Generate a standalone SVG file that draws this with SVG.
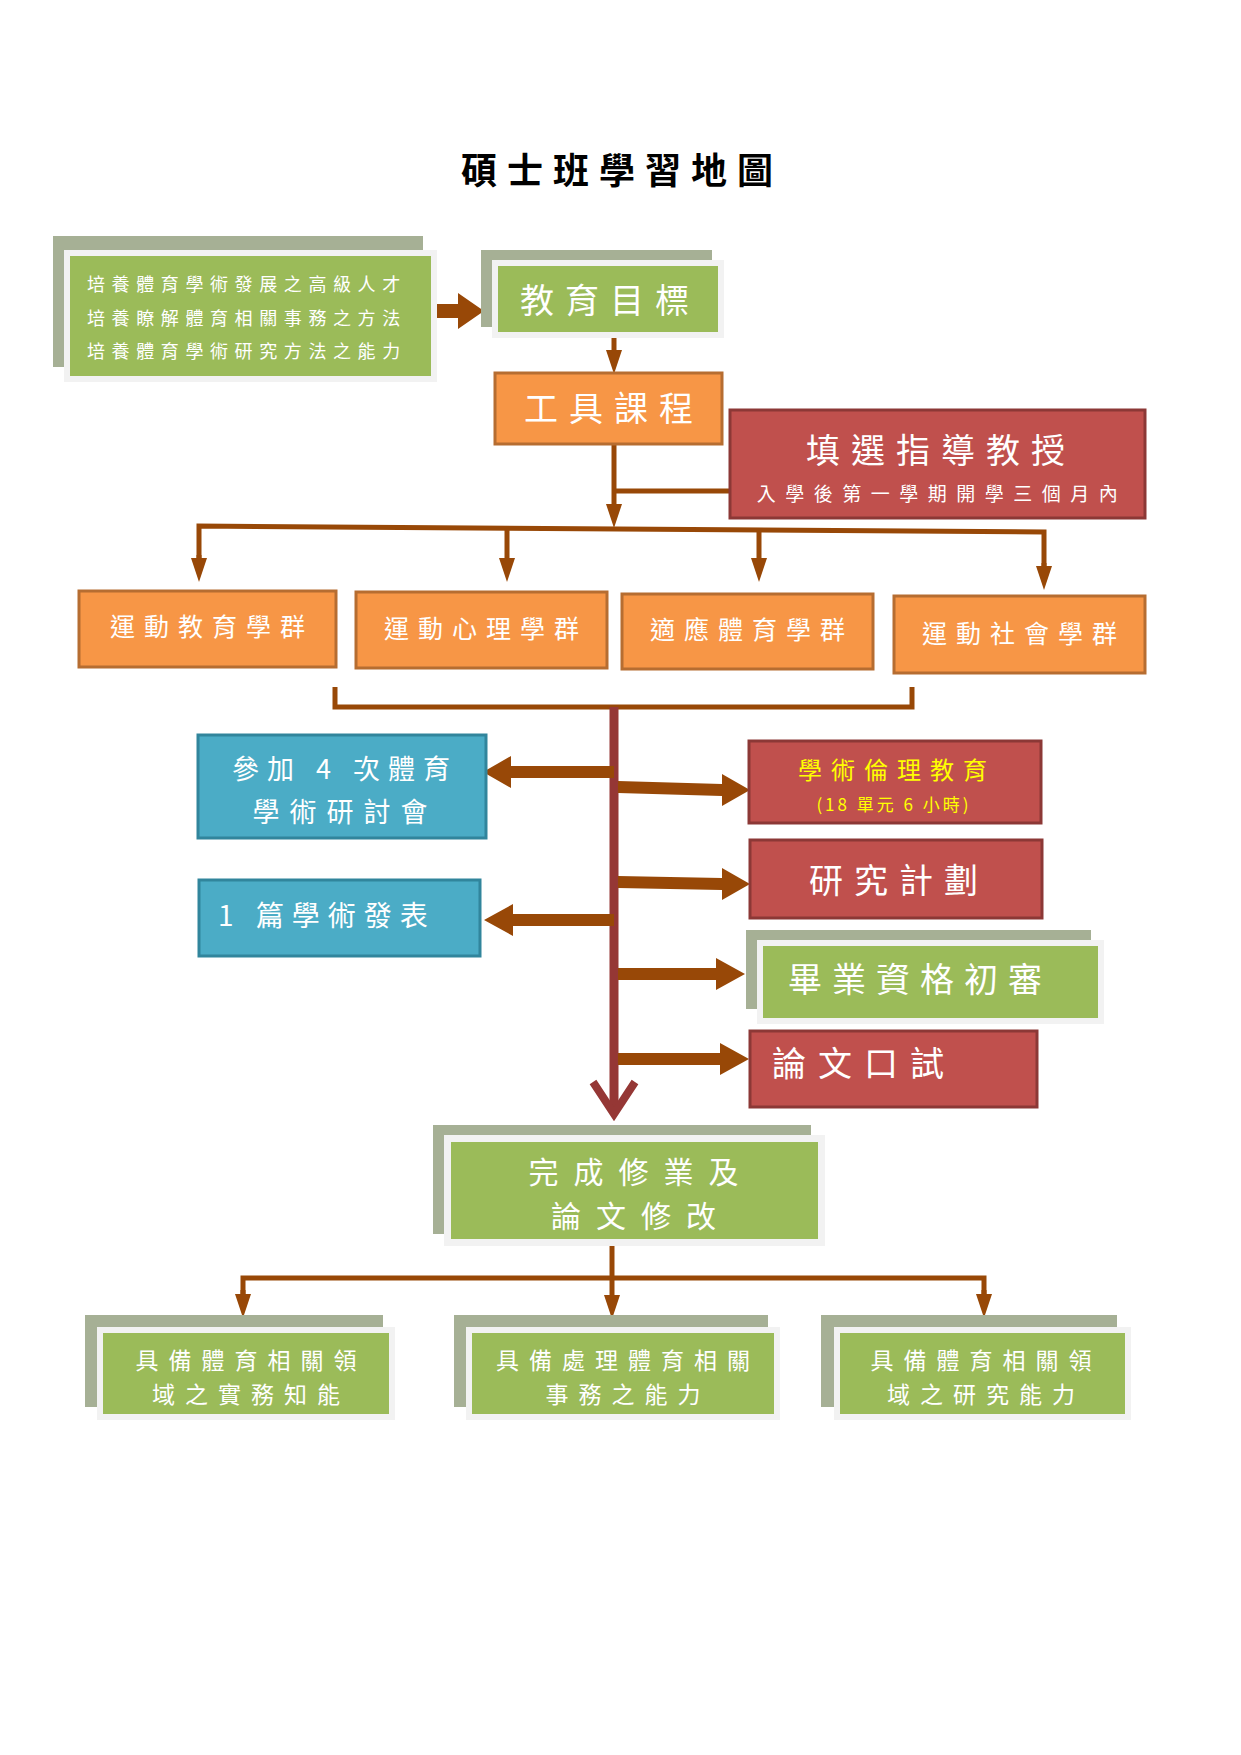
<svg xmlns="http://www.w3.org/2000/svg" width="1241" height="1755" viewBox="0 0 1241 1755">
<defs>
<style>
text{font-family:"Noto Sans CJK TC","Noto Sans CJK SC",sans-serif;fill:#ffffff;dominant-baseline:central}
.title{font-size:36px;font-weight:bold;fill:#000000;letter-spacing:10px;text-anchor:middle}
.big{font-size:34px;letter-spacing:11px;text-anchor:middle}
.mid{font-size:25px;letter-spacing:9px;text-anchor:middle}
.two{font-size:23px;letter-spacing:10px;text-anchor:middle}
.sm{font-size:18px;letter-spacing:6.6px}
.sub{font-size:19px;letter-spacing:9.5px;text-anchor:middle}
.yel{fill:#FFFF00}
.back{fill:#A6B095}
.frame{fill:#F2F2F2}
.green{fill:#9BBB59}
.orange{fill:#F79646;stroke:#B66D31;stroke-width:3}
.red{fill:#C0504D;stroke:#8C3836;stroke-width:3}
.blue{fill:#4BACC6;stroke:#31859C;stroke-width:3}
.ln{fill:none;stroke:#984807;stroke-width:5}
.blk{fill:#984807}
</style>
<marker id="ah" markerWidth="24" markerHeight="16" refX="0" refY="8" orient="auto" markerUnits="userSpaceOnUse">
<path d="M0,0 L24,8 L0,16 z" fill="#984807"/>
</marker>
</defs>
<rect width="1241" height="1755" fill="#ffffff"/>

<text class="title" x="622" y="168">碩士班學習地圖</text>

<g id="connectors">
<path class="blk" d="M436,304 L458,304 L458,293 L484,311 L458,329 L458,318 L436,318 z"/>
<line class="ln" x1="614" y1="333" x2="614" y2="350" marker-end="url(#ah)"/>
<line class="ln" x1="614" y1="444" x2="614" y2="504" marker-end="url(#ah)"/>
<line class="ln" x1="612" y1="491" x2="731" y2="491"/>
<polyline class="ln" points="199,560 199,526 1044,532 1044,568"/>
<line class="ln" x1="199" y1="555" x2="199" y2="558" marker-end="url(#ah)"/>
<line class="ln" x1="507" y1="528" x2="507" y2="558" marker-end="url(#ah)"/>
<line class="ln" x1="759" y1="530" x2="759" y2="558" marker-end="url(#ah)"/>
<line class="ln" x1="1044" y1="563" x2="1044" y2="566" marker-end="url(#ah)"/>
<polyline class="ln" points="335,687 335,707 912,707 912,687"/>
<line x1="614" y1="707" x2="614" y2="1112" stroke="#953735" stroke-width="9"/>
<polyline points="593,1082 614,1114 635,1082" fill="none" stroke="#953735" stroke-width="8" stroke-linejoin="miter"/>
<path class="blk" d="M614,766 L511,766 L511,756 L483,772 L511,788 L511,778 L614,778 z"/>
<path class="blk" d="M614,914 L513,914 L513,904 L484,920 L513,936 L513,926 L614,926 z"/>
<path class="blk" d="M618,781 L722,784 L722,774 L750,790 L722,806 L722,796 L618,793 z"/>
<path class="blk" d="M618,876 L722,878 L722,868 L750,884 L722,900 L722,890 L618,888 z"/>
<path class="blk" d="M618,968 L716,968 L716,958 L745,974 L716,990 L716,980 L618,980 z"/>
<path class="blk" d="M618,1053 L720,1053 L720,1043 L749,1059 L720,1075 L720,1065 L618,1065 z"/>
<line class="ln" x1="612" y1="1245" x2="612" y2="1295" marker-end="url(#ah)"/>
<polyline class="ln" points="243,1295 243,1278 984,1278 984,1295"/>
<line class="ln" x1="243" y1="1290" x2="243" y2="1294" marker-end="url(#ah)"/>
<line class="ln" x1="984" y1="1290" x2="984" y2="1294" marker-end="url(#ah)"/>
</g>

<g id="goals">
<rect class="back" x="53" y="236" width="370" height="131"/>
<rect class="frame" x="64" y="250" width="373" height="132"/>
<rect class="green" x="70" y="256" width="361" height="120"/>
<text class="sm" x="87" y="283">培養體育學術發展之高級人才</text>
<text class="sm" x="87" y="317">培養瞭解體育相關事務之方法</text>
<text class="sm" x="87" y="350">培養體育學術研究方法之能力</text>
</g>

<g id="objective">
<rect class="back" x="481" y="250" width="231" height="77"/>
<rect class="frame" x="492" y="260" width="232" height="78"/>
<rect class="green" x="498" y="266" width="220" height="66"/>
<text class="big" x="610" y="298">教育目標</text>
</g>

<g id="tools">
<rect class="orange" x="495" y="373" width="227" height="71"/>
<text class="big" x="614" y="406">工具課程</text>
</g>

<g id="advisor">
<rect class="red" x="730" y="410" width="415" height="108"/>
<text class="big" x="941" y="448">填選指導教授</text>
<text class="sub" x="942" y="492">入學後第一學期開學三個月內</text>
</g>

<g id="group1">
<rect class="orange" x="79" y="591" width="257" height="76"/>
<text class="mid" x="212" y="625">運動教育學群</text>
</g>
<g id="group2">
<rect class="orange" x="356" y="592" width="251" height="76"/>
<text class="mid" x="486" y="627">運動心理學群</text>
</g>
<g id="group3">
<rect class="orange" x="622" y="594" width="251" height="75"/>
<text class="mid" x="752" y="628">適應體育學群</text>
</g>
<g id="group4">
<rect class="orange" x="894" y="596" width="251" height="77"/>
<text class="mid" x="1024" y="632">運動社會學群</text>
</g>

<g id="seminar">
<rect class="blue" x="198" y="735" width="288" height="103"/>
<text class="mid" x="345" y="767" style="font-size:27px;letter-spacing:8px">參加 4 次體育</text>
<text class="mid" x="345" y="810" style="font-size:27px;letter-spacing:10px">學術研討會</text>
</g>

<g id="publication">
<rect class="blue" x="199" y="880" width="281" height="76"/>
<text x="218" y="914" style="font-size:28px;letter-spacing:8px">1 篇學術發表</text>
</g>

<g id="ethics">
<rect class="red" x="749" y="741" width="292" height="82"/>
<text class="mid yel" x="897" y="768" style="font-size:24px">學術倫理教育</text>
<text class="yel" x="894" y="803" style="font-size:17px;letter-spacing:3px;text-anchor:middle">(18 單元 6 小時)</text>
</g>

<g id="proposal">
<rect class="red" x="750" y="840" width="292" height="78"/>
<text class="big" x="899" y="878">研究計劃</text>
</g>

<g id="review">
<rect class="back" x="746" y="930" width="345" height="79"/>
<rect class="frame" x="757" y="940" width="347" height="84"/>
<rect class="green" x="763" y="946" width="335" height="72"/>
<text class="big" x="920" y="977" style="letter-spacing:10px">畢業資格初審</text>
</g>

<g id="defense">
<rect class="red" x="750" y="1031" width="287" height="76"/>
<text x="772" y="1061" style="font-size:34px;letter-spacing:12px">論文口試</text>
</g>

<g id="complete">
<rect class="back" x="433" y="1125" width="378" height="109"/>
<rect class="frame" x="444" y="1135" width="381" height="111"/>
<rect class="green" x="451" y="1142" width="367" height="97"/>
<text class="big" x="641" y="1170" style="font-size:30px;letter-spacing:15px">完成修業及</text>
<text class="big" x="641" y="1214" style="font-size:30px;letter-spacing:15px">論文修改</text>
</g>

<g id="outcome1">
<rect class="back" x="85" y="1315" width="298" height="92"/>
<rect class="frame" x="97" y="1327" width="298" height="93"/>
<rect class="green" x="103" y="1333" width="286" height="81"/>
<text class="two" x="251" y="1359">具備體育相關領</text>
<text class="two" x="251" y="1393">域之實務知能</text>
</g>

<g id="outcome2">
<rect class="back" x="454" y="1315" width="314" height="92"/>
<rect class="frame" x="466" y="1327" width="314" height="93"/>
<rect class="green" x="472" y="1333" width="302" height="81"/>
<text class="two" x="628" y="1359">具備處理體育相關</text>
<text class="two" x="628" y="1393">事務之能力</text>
</g>

<g id="outcome3">
<rect class="back" x="821" y="1315" width="296" height="92"/>
<rect class="frame" x="834" y="1327" width="297" height="93"/>
<rect class="green" x="840" y="1333" width="285" height="81"/>
<text class="two" x="986" y="1359">具備體育相關領</text>
<text class="two" x="986" y="1393">域之研究能力</text>
</g>
</svg>
